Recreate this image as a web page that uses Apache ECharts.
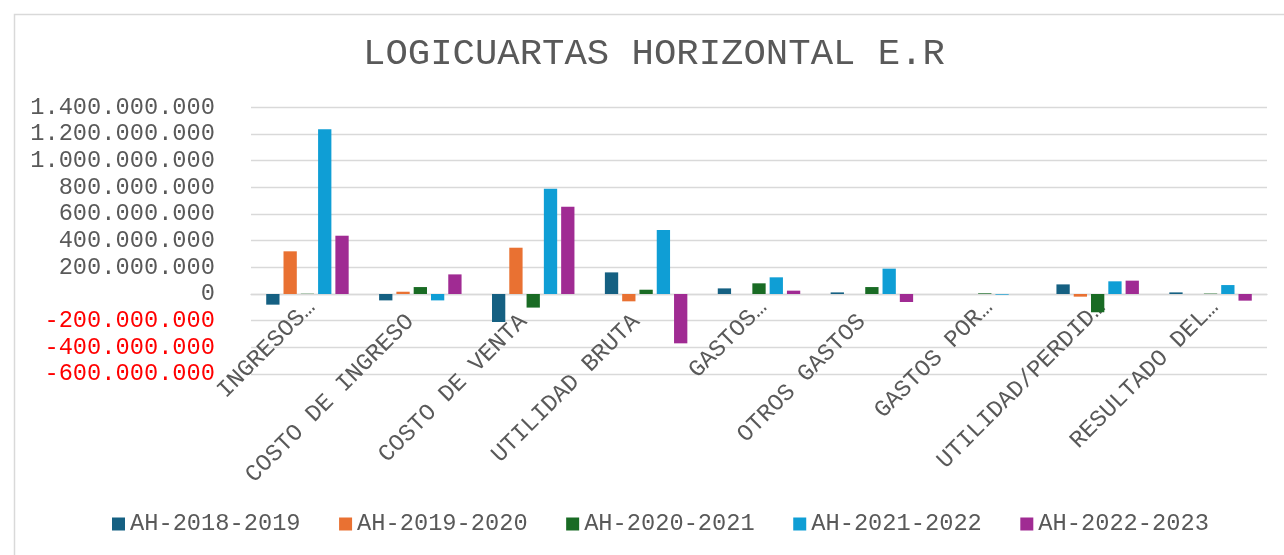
<!DOCTYPE html>
<html>
<head>
<meta charset="utf-8">
<script src="https://cdn.jsdelivr.net/npm/echarts@6/dist/echarts.min.js"></script>
<style>
html,body{margin:0;padding:0;background:#fff;}
#chart{width:1284px;height:555px;}
</style>
</head>
<body>
<div id="chart"></div>
<script>
const chartTitle = 'LOGICUARTAS HORIZONTAL E.R';
const categories = ['INGRESOS…', 'COSTO DE INGRESO', 'COSTO DE VENTA', 'UTILIDAD BRUTA', 'GASTOS…', 'OTROS GASTOS', 'GASTOS POR…', 'UTILIDAD/PERDID…', 'RESULTADO DEL…'];
const seriesNames = ['AH-2018-2019', 'AH-2019-2020', 'AH-2020-2021', 'AH-2021-2022', 'AH-2022-2023'];
const ah2018_2019 = [-80000000, -48000000, -210000000, 162000000, 42000000, 12000000, 0, 72000000, 12000000];
const ah2019_2020 = [320000000, 17000000, 347000000, -55000000, 0, 0, 0, -20000000, 0];
const ah2020_2021 = [2000000, 52000000, -102000000, 32000000, 80000000, 52000000, 5000000, -137000000, 3000000];
const ah2021_2022 = [1235000000, -48000000, 790000000, 480000000, 125000000, 190000000, -5000000, 95000000, 67000000];
const ah2022_2023 = [437000000, 147000000, 655000000, -370000000, 25000000, -60000000, 0, 100000000, -50000000];
const yMin = -600000000, yMax = 1400000000, yStep = 200000000;

const seriesData = [ah2018_2019, ah2019_2020, ah2020_2021, ah2021_2022, ah2022_2023];
const colors = ['#156082', '#E97132', '#196B24', '#0F9ED5', '#A02B93'];
const FONT = '"Courier New", "Liberation Mono", monospace';
const FS = 23.7;

function fmt(v) {
  const neg = v < 0;
  const s = Math.abs(Math.round(v)).toString().replace(/\B(?=(\d{3})+(?!\d))/g, '.');
  return (neg ? '-' : '') + s;
}

const labelBase = {fontFamily: FONT, fontSize: FS, color: '#595959'};

const chart = echarts.init(document.getElementById('chart'), null, {renderer: 'canvas'});
chart.setOption({
  animation: false,
  backgroundColor: '#ffffff',
  color: colors,
  graphic: [{
    type: 'rect',
    left: 12, top: 12,
    shape: {width: 1300, height: 600},
    style: {fill: 'none', stroke: '#d9d9d9', lineWidth: 1.5},
    silent: true
  }],
  title: {
    text: chartTitle,
    left: 363, top: 35, padding: 0,
    textStyle: {fontFamily: FONT, fontSize: 37.3, fontWeight: 'normal', color: '#595959', lineHeight: 38}
  },
  legend: {
    left: 112, top: 512, padding: 0,
    itemWidth: 13, itemHeight: 13, itemGap: 38.5,
    icon: 'rect',
    textStyle: {fontFamily: FONT, fontSize: FS, color: '#595959', lineHeight: 24},
    data: seriesNames
  },
  grid: {left: 251, right: 17, top: 107.3, bottom: 181, containLabel: false},
  xAxis: {
    type: 'category',
    data: categories,
    axisLine: {onZero: true, lineStyle: {color: '#d9d9d9', width: 1.3}},
    axisTick: {show: false},
    axisLabel: {
      rotate: 45, margin: -66, interval: 0,
      fontFamily: FONT, fontSize: FS, color: '#595959',
      padding: [0, -6, 0, 0],
      formatter: function (v) {
        return (v.endsWith('…') ? '{t|' : '{f|') + v + '}';
      },
      rich: {
        t: Object.assign({}, labelBase),
        f: Object.assign({padding: [0, 20, 0, 0]}, labelBase)
      }
    }
  },
  yAxis: {
    type: 'value',
    min: yMin, max: yMax, interval: yStep,
    axisLine: {show: false},
    axisTick: {show: false},
    splitLine: {lineStyle: {color: '#d9d9d9', width: 1.3}},
    axisLabel: {
      margin: 36, fontFamily: FONT, fontSize: FS,
      color: function (v) { return Number(v) < 0 ? '#FF0000' : '#595959'; },
      formatter: fmt
    }
  },
  series: seriesNames.map((n, i) => ({
    name: n,
    type: 'bar',
    data: seriesData[i],
    barWidth: 13.3,
    barGap: '30%',
    itemStyle: {color: colors[i]}
  }))
});
</script>
</body>
</html>
